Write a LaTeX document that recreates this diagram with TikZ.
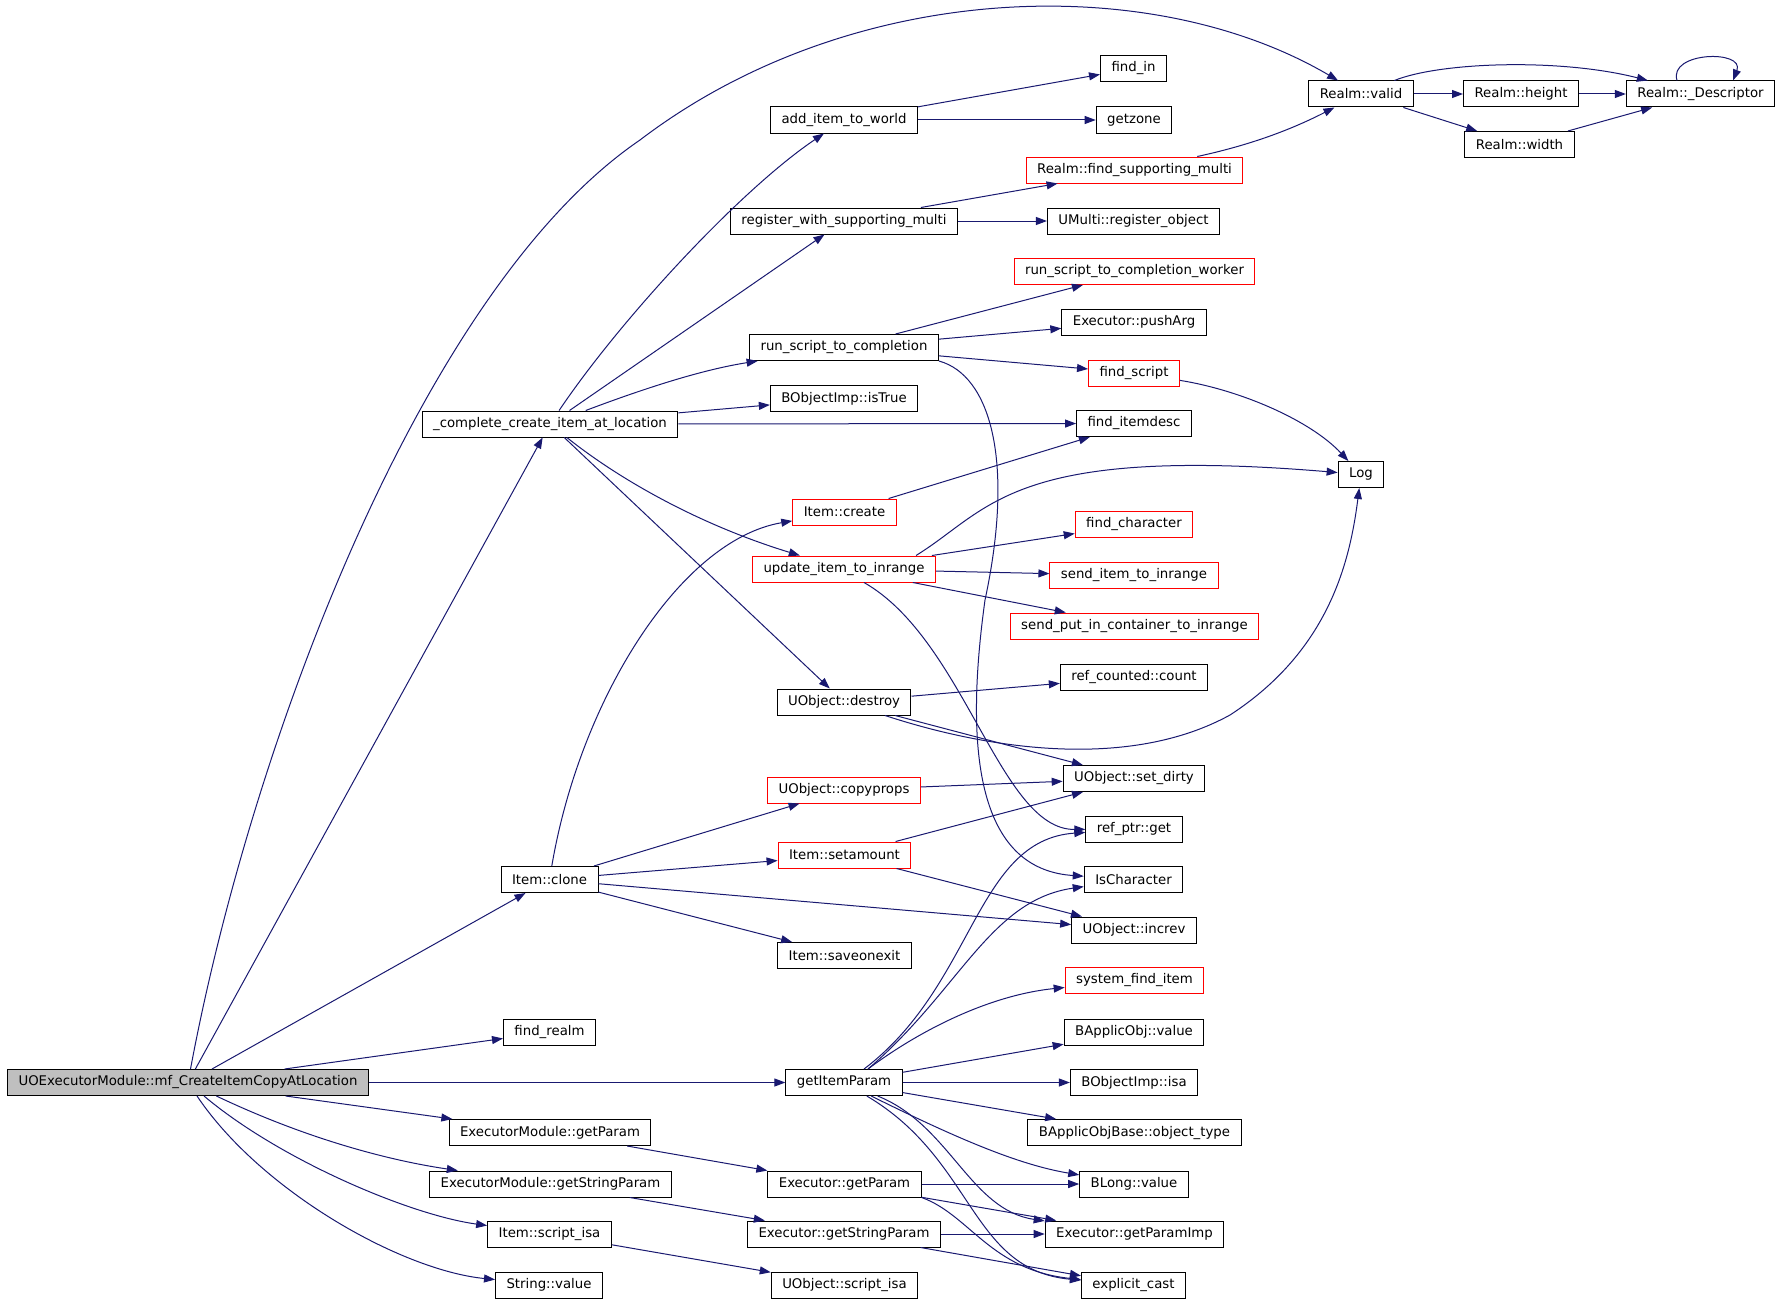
\documentclass[tikz,border=0pt]{standalone}
\usepackage{fontspec}
\setmainfont{DejaVu Sans}
\usetikzlibrary{arrows.meta}
\definecolor{edgeblue}{HTML}{191970}
\tikzset{
  fn/.style={draw=black,line width=1pt,inner xsep=11pt,inner ysep=0pt,
    minimum height=26pt,font=\fontsize{13.3}{16}\selectfont},
  fnred/.style={fn,draw=red},
  fnroot/.style={fn,fill=black!25},
  call/.style={draw=edgeblue,line width=1pt,
    -{Stealth[inset=0pt,length=11pt,width=8pt]}},
}
\begin{document}
\begin{tikzpicture}[x=1pt,y=-1pt]
\useasboundingbox (0,0) rectangle (1784,1303);
% <<< cot 1
\node[fnroot] (mf) at (188,1082.5) {UOExecutorModule::mf\_CreateItemCopyAtLocation};
% <<< cot 2
\node[fn] (complete) at (550,424) {\_complete\_create\_item\_at\_location};
\node[fn] (clone) at (549.5,879.5) {Item::clone};
\node[fn] (findrealm) at (549.5,1032) {find\_realm};
\node[fn] (emgp) at (550,1132.5) {ExecutorModule::getParam};
\node[fn] (emgsp) at (550.5,1184) {ExecutorModule::getStringParam};
\node[fn] (scriptisa) at (549.5,1234) {Item::script\_isa};
\node[fn] (strvalue) at (549,1285) {String::value};
% <<< cot 3
\node[fn] (additem) at (844,120) {add\_item\_to\_world};
\node[fn] (regmulti) at (844,221) {register\_with\_supporting\_multi};
\node[fn] (runscript) at (844,347.5) {run\_script\_to\_completion};
\node[fn] (istrue) at (844,398.5) {BObjectImp::isTrue};
\node[fnred] (itemcreate) at (844.5,512) {Item::create};
\node[fnred] (update) at (844,569) {update\_item\_to\_inrange};
\node[fn] (destroy) at (844,702) {UObject::destroy};
\node[fnred] (copyprops) at (844,790) {UObject::copyprops};
\node[fnred] (setamount) at (844.5,855) {Item::setamount};
\node[fn] (saveonexit) at (844.5,955.5) {Item::saveonexit};
\node[fn] (getitem) at (844,1082.5) {getItemParam};
\node[fn] (exgp) at (844.5,1184) {Executor::getParam};
\node[fn] (exgsp) at (844,1234) {Executor::getStringParam};
\node[fn] (uscriptisa) at (844.5,1285) {UObject::script\_isa};
% <<< cot 4
\node[fn] (findin) at (1133.5,68.5) {find\_in};
\node[fn] (getzone) at (1134,120) {getzone};
\node[fnred] (findsupp) at (1134.5,170) {Realm::find\_supporting\_multi};
\node[fn] (register) at (1133.5,221) {UMulti::register\_object};
\node[fnred] (worker) at (1134.5,271.5) {run\_script\_to\_completion\_worker};
\node[fn] (pusharg) at (1134,322) {Executor::pushArg};
\node[fnred] (findscript) at (1134,373) {find\_script};
\node[fn] (itemdesc) at (1134,423.5) {find\_itemdesc};
\node[fnred] (findchar) at (1134,524.5) {find\_character};
\node[fnred] (senditem) at (1134,575.5) {send\_item\_to\_inrange};
\node[fnred] (sendput) at (1134.5,626) {send\_put\_in\_container\_to\_inrange};
\node[fn] (refcount) at (1134,677) {ref\_counted::count};
\node[fn] (setdirty) at (1134,778.5) {UObject::set\_dirty};
\node[fn] (refptr) at (1134,829) {ref\_ptr::get};
\node[fn] (ischar) at (1133.5,879.5) {IsCharacter};
\node[fn] (increv) at (1134,930) {UObject::increv};
\node[fnred] (sysfind) at (1134.5,980.5) {system\_find\_item};
\node[fn] (applicval) at (1134,1032) {BApplicObj::value};
\node[fn] (isa) at (1134,1082.5) {BObjectImp::isa};
\node[fn] (objtype) at (1134.5,1132.5) {BApplicObjBase::object\_type};
\node[fn] (blong) at (1134,1184) {BLong::value};
\node[fn] (paramimp) at (1134.5,1234) {Executor::getParamImp};
\node[fn] (ecast) at (1133.5,1285) {explicit\_cast};
% <<< cot 5, 6, 7
\node[fn] (valid) at (1361,94) {Realm::valid};
\node[fn] (log) at (1361,474.5) {Log};
\node[fn] (height) at (1521,94) {Realm::height};
\node[fn] (width) at (1519.5,144.5) {Realm::width};
\node[fn] (desc) at (1700.5,94) {Realm::\_Descriptor};

\draw[call] (mf) .. controls (250,750) and (420,290) .. (640,140)
  .. controls (850,-20) and (1150,-30) .. (valid);
\draw[call] (mf) -- (complete);
\draw[call] (mf) -- (clone);
\draw[call] (mf) -- (findrealm);
\draw[call] (mf) -- (getitem);
\draw[call] (mf) -- (emgp);
\draw[call] (mf) .. controls (330,1150) and (420,1165) .. (emgsp);
\draw[call] (mf) .. controls (280,1160) and (410,1215) .. (scriptisa);
\draw[call] (mf) .. controls (260,1190) and (400,1270) .. (strvalue);

\draw[call] (complete) .. controls (620,320) and (740,190) .. (additem);
\draw[call] (complete) -- (regmulti);
\draw[call] (complete) .. controls (640,390) and (700,370) .. (runscript);
\draw[call] (complete) -- (istrue);
\draw[call] (complete) -- (itemdesc);
\draw[call] (complete) .. controls (620,480) and (700,525) .. (update);
\draw[call] (complete) -- (destroy);

\draw[call] (clone) .. controls (580,700) and (680,540) .. (itemcreate);
\draw[call] (clone) -- (copyprops);
\draw[call] (clone) -- (setamount);
\draw[call] (clone) -- (increv);
\draw[call] (clone) -- (saveonexit);

\draw[call] (additem) -- (findin);
\draw[call] (additem) -- (getzone);
\draw[call] (regmulti) -- (findsupp);
\draw[call] (regmulti) -- (register);
\draw[call] (findsupp) .. controls (1260,143) and (1300,125) .. (valid);
\draw[call] (runscript) -- (worker);
\draw[call] (runscript) -- (pusharg);
\draw[call] (runscript) -- (findscript);
\draw[call] (runscript.south east) .. controls (990,375) and (1015,460) .. (985,600)
  .. controls (960,780) and (990,870) .. (ischar);
\draw[call] (itemcreate) -- (itemdesc);
\draw[call] ([xshift=-20pt]update.north east) .. controls (990,510) and (1010,445) .. (log);
\draw[call] (update) -- (findchar);
\draw[call] (update) -- (senditem);
\draw[call] (update) -- (sendput);
\draw[call] ([xshift=20pt]update.south) .. controls (965,640) and (1000,830) .. (refptr);
\draw[call] (destroy) -- (refcount);
\draw[call] (destroy) -- (setdirty);
\draw[call] (destroy) .. controls (990,750) and (1130,770) .. (1230,715)
  .. controls (1330,650) and (1350,560) .. (log);
\draw[call] (copyprops) -- (setdirty);
\draw[call] (setamount) -- (setdirty);
\draw[call] (setamount) -- (increv);
\draw[call] ([xshift=20pt]getitem.north) .. controls (975,985) and (975,840) .. (refptr);
\draw[call] ([xshift=24pt]getitem.north) .. controls (960,990) and (990,900) .. (ischar);
\draw[call] ([xshift=24pt]getitem.north) .. controls (920,1030) and (990,995) .. (sysfind);
\draw[call] (getitem) -- (applicval);
\draw[call] (getitem) -- (isa);
\draw[call] (getitem) -- (objtype);
\draw[call] (getitem) .. controls (960,1140) and (1020,1165) .. (blong);
\draw[call] (getitem) .. controls (950,1125) and (970,1210) .. (paramimp);
\draw[call] (getitem) .. controls (975,1160) and (970,1270) .. (ecast);
\draw[call] (exgp) -- (blong);
\draw[call] (exgp) -- (paramimp);
\draw[call] (exgp.south east) .. controls (970,1215) and (990,1270) .. (ecast);
\draw[call] (exgsp) -- (paramimp);
\draw[call] (exgsp) -- (ecast);
\draw[call] (emgp) -- (exgp);
\draw[call] (emgsp) -- (exgsp);
\draw[call] (scriptisa) -- (uscriptisa);
\draw[call] (findscript) .. controls (1240,390) and (1310,420) .. (log);

\draw[call] (valid) -- (height);
\draw[call] (valid) -- (width);
\draw[call] (valid) .. controls (1440,62) and (1560,58) .. (desc);
\draw[call] (height) -- (desc);
\draw[call] (width) -- (desc);
\draw[call] ([xshift=-23.5pt]desc.north) .. controls +(-9,-29) and +(12,-31) .. ([xshift=32.5pt]desc.north);
\end{tikzpicture}
\end{document}
